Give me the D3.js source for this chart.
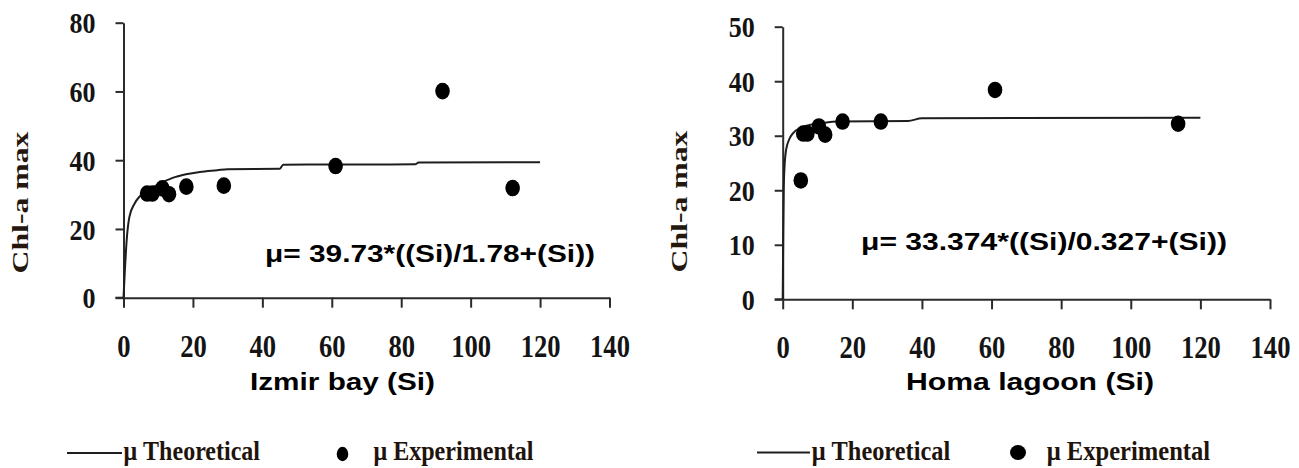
<!DOCTYPE html>
<html>
<head>
<meta charset="utf-8">
<script src="https://cdn.jsdelivr.net/npm/d3@7"></script>
<style>
  html, body { margin: 0; padding: 0; background: #fff; }
  svg { display: block; }
</style>
</head>
<body>
<svg id="chart" width="1299" height="468"></svg>
<script>
// ---------- data ----------
const xTicks = [0, 20, 40, 60, 80, 100, 120, 140];
const izmirYTicks = [0, 20, 40, 60, 80];
const homaYTicks = [0, 10, 20, 30, 40, 50];

// experimental points (Si, Chl-a max)
const izmirSi  = [6.8, 8.3, 11.2, 13.1, 18.1, 28.9, 61.1, 91.9, 112.1];
const izmirChl = [30.3, 30.3, 31.8, 30.1, 32.3, 32.6, 38.3, 60.1, 31.9];
const homaSi   = [5.2, 5.9, 7.1, 10.4, 12.2, 17.2, 28.2, 61.0, 113.6];
const homaChl  = [21.8, 30.4, 30.4, 31.7, 30.2, 32.6, 32.6, 38.4, 32.2];

// theoretical curves
const izmirTheoSi  = [0, 0.4, 0.9, 1.7, 3.2, 4.6, 7, 10, 14, 18, 22, 27, 30, 45, 46, 84, 85, 120];
const izmirTheoChl = [0, 8, 16.5, 23.5, 27.4, 29.4, 31.2, 33, 34.8, 35.9, 36.6, 37.1, 37.4, 37.5, 38.7, 38.8, 39.3, 39.4];
const homaTheoSi   = [0, 0.15, 0.3, 0.5, 1, 2, 3, 5, 8, 12, 16, 36, 40, 120];
const homaTheoChl  = [0, 12, 20, 24, 27.5, 29.5, 30.5, 31.4, 32, 32.4, 32.6, 32.7, 33.2, 33.3];

const panelTitles = ["Izmir bay (Si)", "Homa lagoon (Si)"];
const yTitle = "Chl-a max";
const formulas = ["\u03bc= 39.73*((Si)/1.78+(Si))", "\u03bc= 33.374*((Si)/0.327+(Si))"];
const legendLabels = ["\u03bc Theoretical", "\u03bc Experimental"];

// ---------- drawing ----------
const svg = d3.select("#chart");
const AX = "#2a2a2a";

function drawPanel(p) {
  const g = svg.append("g");
  const x = d3.scaleLinear().domain([0, 140]).range([p.x0, p.x1]);
  const y = d3.scaleLinear().domain([0, p.yMax]).range([p.y0, p.y1]);

  // y axis
  const ya = g.append("g").attr("transform", `translate(${p.x0},0)`)
    .call(d3.axisLeft(y).tickValues(p.yTicks).tickSize(8).tickSizeOuter(0));
  ya.select(".domain").attr("stroke", AX).attr("stroke-width", 2);
  ya.selectAll(".tick line").attr("stroke", AX).attr("stroke-width", 2);
  ya.selectAll(".tick text")
    .attr("x", -28).attr("dy", "0.34em")
    .attr("font-family", "Liberation Serif").attr("font-size", 30).attr("font-weight", "bold")
    .attr("fill", "#141414").attr("text-anchor", "end")
    .attr("textLength", d => String(d).length * 13)
    .attr("lengthAdjust", "spacingAndGlyphs");

  // x axis
  const xa = g.append("g").attr("transform", `translate(0,${p.y0})`)
    .call(d3.axisBottom(x).tickValues(xTicks).tickSize(10).tickSizeOuter(0));
  xa.select(".domain").attr("stroke", AX).attr("stroke-width", 2);
  xa.selectAll(".tick line").attr("stroke", AX).attr("stroke-width", 2);
  xa.selectAll(".tick text")
    .attr("y", 59).attr("dy", 0)
    .attr("font-family", "Liberation Serif").attr("font-size", 31).attr("font-weight", "bold")
    .attr("fill", "#141414")
    .attr("textLength", d => String(d).length * 13.3)
    .attr("lengthAdjust", "spacingAndGlyphs");
  // extend x axis line left to the y axis tick
  g.append("line").attr("x1", p.x0 - 8).attr("x2", p.x0).attr("y1", p.y0).attr("y2", p.y0)
    .attr("stroke", AX).attr("stroke-width", 2);

  // theoretical curve
  const theo = p.theoSi.map((s, i) => [s, p.theoChl[i]]);
  g.append("path").datum(theo)
    .attr("fill", "none").attr("stroke", "#1e1e1e").attr("stroke-width", 2)
    .attr("d", d3.line().x(d => x(d[0])).y(d => y(d[1])).curve(d3.curveMonotoneX));

  // experimental points
  const pts = p.si.map((s, i) => [s, p.chl[i]]);
  g.selectAll("ellipse.pt").data(pts).join("ellipse").attr("class", "pt")
    .attr("cx", d => x(d[0])).attr("cy", d => y(d[1]))
    .attr("rx", 7.3).attr("ry", 8.3).attr("fill", "#000");

  // formula
  g.append("text").attr("x", p.fx).attr("y", p.fy)
    .attr("font-family", "Liberation Sans").attr("font-weight", "bold")
    .attr("font-size", 23).attr("fill", "#000")
    .attr("textLength", p.fw).attr("lengthAdjust", "spacingAndGlyphs")
    .text(p.formula);

  // x title
  g.append("text").attr("x", p.tx).attr("y", 390)
    .attr("font-family", "Liberation Sans").attr("font-weight", "bold")
    .attr("font-size", 23).attr("fill", "#000")
    .attr("textLength", p.tw).attr("lengthAdjust", "spacingAndGlyphs")
    .text(p.title);

  // y title
  g.append("text")
    .attr("transform", `translate(${p.ytx},${p.yty}) rotate(-90)`)
    .attr("text-anchor", "middle")
    .attr("font-family", "Liberation Serif").attr("font-weight", "bold")
    .attr("font-size", 22.5).attr("fill", "#24170e")
    .attr("textLength", 142).attr("lengthAdjust", "spacingAndGlyphs")
    .text(yTitle);

  // legend
  const L = p.legend;
  g.append("line").attr("x1", L.lx1).attr("x2", L.lx2).attr("y1", L.ly).attr("y2", L.ly)
    .attr("stroke", "#1e1e1e").attr("stroke-width", 2);
  g.append("text").attr("x", L.t1x).attr("y", 460)
    .attr("font-family", "Liberation Serif").attr("font-weight", "bold")
    .attr("font-size", 27).attr("fill", "#1f140c")
    .attr("textLength", L.t1w).attr("lengthAdjust", "spacingAndGlyphs")
    .text(legendLabels[0]);
  g.append("ellipse").attr("cx", L.dx).attr("cy", L.dy).attr("rx", L.drx).attr("ry", L.dry).attr("fill", "#000");
  g.append("text").attr("x", L.t2x).attr("y", 460)
    .attr("font-family", "Liberation Serif").attr("font-weight", "bold")
    .attr("font-size", 27).attr("fill", "#1f140c")
    .attr("textLength", L.t2w).attr("lengthAdjust", "spacingAndGlyphs")
    .text(legendLabels[1]);
}

drawPanel({
  x0: 123.5, x1: 609.5, y0: 297.7, y1: 22.7, yMax: 80, yTicks: izmirYTicks,
  si: izmirSi, chl: izmirChl, theoSi: izmirTheoSi, theoChl: izmirTheoChl,
  formula: formulas[0], fx: 265, fy: 262, fw: 330,
  title: panelTitles[0], tx: 250, tw: 185,
  ytx: 28, yty: 202.5,
  legend: { lx1: 67, lx2: 122, ly: 453, t1x: 123.5, t1w: 136.5, dx: 342.5, dy: 454, drx: 5.8, dry: 7.2, t2x: 373.5, t2w: 160 }
});

drawPanel({
  x0: 782.7, x1: 1270, y0: 299.3, y1: 26.7, yMax: 50, yTicks: homaYTicks,
  si: homaSi, chl: homaChl, theoSi: homaTheoSi, theoChl: homaTheoChl,
  formula: formulas[1], fx: 861, fy: 250, fw: 366,
  title: panelTitles[1], tx: 906, tw: 248,
  ytx: 687, yty: 201.5,
  legend: { lx1: 757, lx2: 810, ly: 452.5, t1x: 811.7, t1w: 138.5, dx: 1018, dy: 452.5, drx: 8, dry: 7.6, t2x: 1046.7, t2w: 163.5 }
});
</script>
</body>
</html>
